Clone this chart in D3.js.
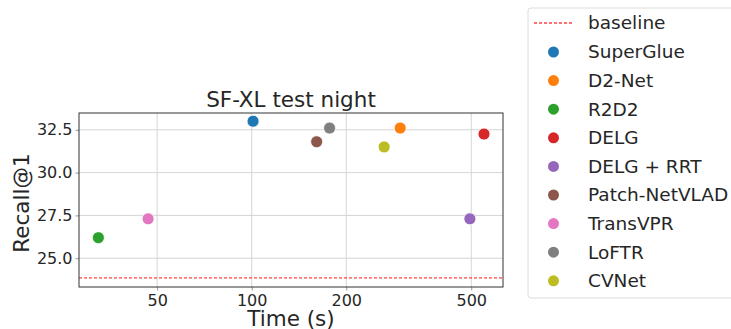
<!DOCTYPE html>
<html>
<head>
<meta charset="utf-8">
<script src="https://cdn.jsdelivr.net/npm/d3@7"></script>
<style>
  body { margin: 0; background: #fff; }
  svg { font-family: "DejaVu Sans", sans-serif; }
</style>
</head>
<body>
<svg id="viz" width="731" height="329"></svg>
<script>
// data
var methods = ['SuperGlue', 'D2-Net', 'R2D2', 'DELG', 'DELG + RRT', 'Patch-NetVLAD', 'TransVPR', 'LoFTR', 'CVNet'];
var times = [101, 297, 32.5, 549, 495, 161, 46.8, 177, 264];
var recalls = [33.0, 32.6, 26.2, 32.25, 27.3, 31.8, 27.3, 32.6, 31.5];
var colors = ['#1f77b4', '#ff7f0e', '#2ca02c', '#d62728', '#9467bd', '#8c564b', '#e377c2', '#7f7f7f', '#bcbd22'];
var baseline = 23.85;
var xTicks = [50, 100, 200, 500];
var yTicks = [25.0, 27.5, 30.0, 32.5];

var viz = d3.select('#viz');
var box = {left: 79, right: 503, top: 113, bottom: 287};

var x = d3.scaleLog().domain([28.2, 631]).range([box.left, box.right]);
var y = d3.scaleLinear().domain([23.32, 33.48]).range([box.bottom, box.top]);

// grid
viz.append('g').selectAll('line').data(xTicks).enter().append('line')
	.attr('x1', function(d) { return x(d); }).attr('x2', function(d) { return x(d); })
	.attr('y1', box.top).attr('y2', box.bottom)
	.attr('stroke', '#d5d5d5').attr('stroke-width', 1);
viz.append('g').selectAll('line').data(yTicks).enter().append('line')
	.attr('x1', box.left).attr('x2', box.right)
	.attr('y1', function(d) { return y(d); }).attr('y2', function(d) { return y(d); })
	.attr('stroke', '#d5d5d5').attr('stroke-width', 1);

// baseline
viz.append('line')
	.attr('x1', box.left).attr('x2', box.right)
	.attr('y1', y(baseline)).attr('y2', y(baseline))
	.attr('stroke', 'red').attr('stroke-opacity', 0.75)
	.attr('stroke-width', 1.3).attr('stroke-dasharray', '3,2');

// axes
var xAxis = d3.axisBottom(x).tickValues(xTicks).tickFormat(d3.format('d')).tickSize(3.5).tickPadding(4);
var yAxis = d3.axisLeft(y).tickValues(yTicks).tickFormat(d3.format('.1f')).tickSize(3.5).tickPadding(3);
var gx = viz.append('g').attr('transform', 'translate(0,' + box.bottom + ')').call(xAxis);
var gy = viz.append('g').attr('transform', 'translate(' + box.left + ',0)').call(yAxis);
gx.select('.domain').remove();
gy.select('.domain').remove();
viz.selectAll('.tick line').attr('stroke', '#999');
viz.selectAll('.tick text').attr('font-size', 16).attr('fill', '#262626')
	.attr('font-family', '"DejaVu Sans", sans-serif');

viz.append('rect')
	.attr('x', box.left).attr('y', box.top).attr('width', box.right - box.left).attr('height', box.bottom - box.top)
	.attr('fill', 'none').attr('stroke', '#333').attr('stroke-width', 1);

// points
viz.append('g').selectAll('circle').data(methods).enter().append('circle')
	.attr('cx', function(d, i) { return x(times[i]); })
	.attr('cy', function(d, i) { return y(recalls[i]); })
	.attr('r', 6)
	.attr('fill', function(d, i) { return colors[i]; })
	.attr('stroke', '#fff').attr('stroke-width', 0.8);

// titles
viz.append('text').attr('x', (box.left + box.right) / 2).attr('y', 107)
	.attr('text-anchor', 'middle').attr('font-size', 21.5).attr('fill', '#262626')
	.text('SF-XL test night');
viz.append('text').attr('x', (box.left + box.right) / 2).attr('y', 326)
	.attr('text-anchor', 'middle').attr('font-size', 21.5).attr('fill', '#262626')
	.text('Time (s)');
viz.append('text').attr('transform', 'translate(29,' + ((box.top + box.bottom) / 2 + 3) + ') rotate(-90)')
	.attr('text-anchor', 'middle').attr('font-size', 21.5).attr('fill', '#262626')
	.text('Recall@1');

// legend
var leg = viz.append('g');
leg.append('rect').attr('x', 528).attr('y', 8).attr('width', 240).attr('height', 290)
	.attr('rx', 3).attr('fill', '#fff').attr('stroke', '#dcdcdc').attr('stroke-width', 1);
leg.append('line').attr('x1', 534).attr('x2', 572).attr('y1', 23).attr('y2', 23)
	.attr('stroke', 'red').attr('stroke-opacity', 0.75)
	.attr('stroke-width', 1.3).attr('stroke-dasharray', '3,2');
leg.append('text').attr('x', 588).attr('y', 23).attr('dy', '0.35em')
	.attr('font-size', 18.5).attr('fill', '#262626').text('baseline');
var rows = leg.selectAll('g.row').data(methods).enter().append('g')
	.attr('transform', function(d, i) { return 'translate(0,' + (52 + i * 28.6) + ')'; });
rows.append('circle').attr('cx', 553.5).attr('cy', 0).attr('r', 5.5)
	.attr('fill', function(d, i) { return colors[i]; });
rows.append('text').attr('x', 588).attr('y', 0).attr('dy', '0.35em')
	.attr('font-size', 18.5).attr('fill', '#262626').text(function(d) { return d; });
</script>
</body>
</html>
